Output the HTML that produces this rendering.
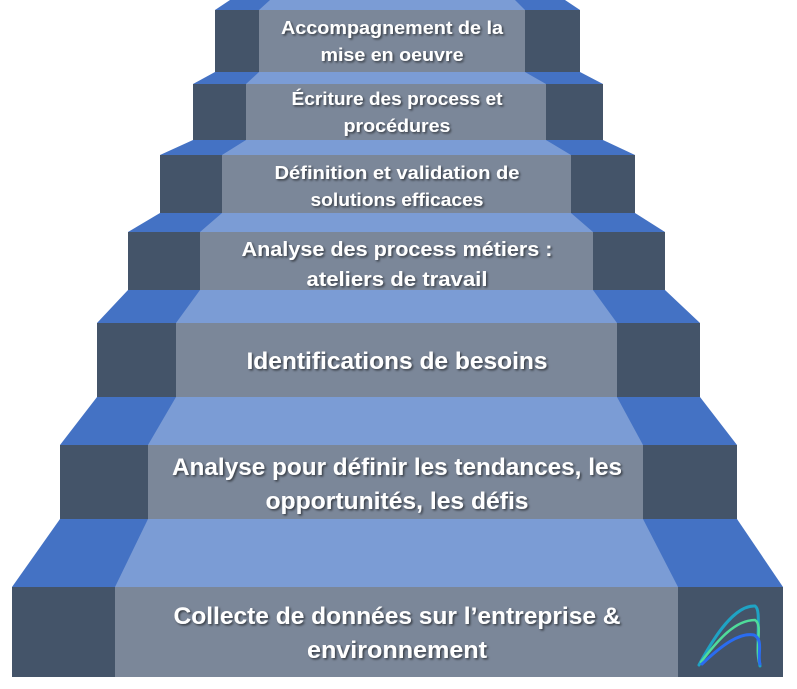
<!DOCTYPE html>
<html><head><meta charset="utf-8"><style>
html,body{margin:0;padding:0;background:#fff;}
svg{display:block;}
text{font-family:"Liberation Sans",sans-serif;font-weight:bold;fill:#fff;text-anchor:middle;}
</style></head><body>
<svg width="797" height="689" viewBox="0 0 797 689" xmlns="http://www.w3.org/2000/svg">
<defs><filter id="sh" x="-10%" y="-30%" width="120%" height="160%"><feDropShadow dx="1.5" dy="1.5" stdDeviation="1" flood-color="#000" flood-opacity="0.55"/></filter></defs>
<g id="steps">
<polygon points="230,0 565,0 580,10 215,10" fill="#4472c4"/>
<polygon points="270,0 515,0 525,10 259,10" fill="#7b9cd5"/>
<rect x="215" y="10" width="365" height="62" fill="#445469"/>
<rect x="259" y="10" width="266" height="62" fill="#7b8799"/>
<polygon points="215,72 580,72 603,84 193,84" fill="#4472c4"/>
<polygon points="259,72 525,72 546,84 246,84" fill="#7b9cd5"/>
<rect x="193" y="84" width="410" height="56" fill="#445469"/>
<rect x="246" y="84" width="300" height="56" fill="#7b8799"/>
<polygon points="193,140 603,140 635,155 160,155" fill="#4472c4"/>
<polygon points="246,140 546,140 571,155 222,155" fill="#7b9cd5"/>
<rect x="160" y="155" width="475" height="58" fill="#445469"/>
<rect x="222" y="155" width="349" height="58" fill="#7b8799"/>
<polygon points="160,213 635,213 665,232 128,232" fill="#4472c4"/>
<polygon points="222,213 571,213 593,232 200,232" fill="#7b9cd5"/>
<rect x="128" y="232" width="537" height="58" fill="#445469"/>
<rect x="200" y="232" width="393" height="58" fill="#7b8799"/>
<polygon points="128,290 665,290 700,323 97,323" fill="#4472c4"/>
<polygon points="200,290 593,290 617,323 176,323" fill="#7b9cd5"/>
<rect x="97" y="323" width="603" height="74" fill="#445469"/>
<rect x="176" y="323" width="441" height="74" fill="#7b8799"/>
<polygon points="97,397 700,397 737,445 60,445" fill="#4472c4"/>
<polygon points="176,397 617,397 643,445 148,445" fill="#7b9cd5"/>
<rect x="60" y="445" width="677" height="74" fill="#445469"/>
<rect x="148" y="445" width="495" height="74" fill="#7b8799"/>
<polygon points="60,519 737,519 783,587 12,587" fill="#4472c4"/>
<polygon points="148,519 643,519 678,587 115,587" fill="#7b9cd5"/>
<rect x="12" y="587" width="771" height="90" fill="#445469"/>
<rect x="115" y="587" width="563" height="90" fill="#7b8799"/>
</g>
<g filter="url(#sh)">
<text x="397" y="624" font-size="24" textLength="447" lengthAdjust="spacingAndGlyphs">Collecte de données sur l’entreprise &amp;</text>
<text x="397" y="658" font-size="24" textLength="180" lengthAdjust="spacingAndGlyphs">environnement</text>
<text x="397" y="475" font-size="24" textLength="450" lengthAdjust="spacingAndGlyphs">Analyse pour définir les tendances, les</text>
<text x="397" y="509" font-size="24" textLength="263" lengthAdjust="spacingAndGlyphs">opportunités, les défis</text>
<text x="397" y="369" font-size="24" textLength="301" lengthAdjust="spacingAndGlyphs">Identifications de besoins</text>
<text x="397" y="256" font-size="20" textLength="311" lengthAdjust="spacingAndGlyphs">Analyse des process métiers :</text>
<text x="397" y="286" font-size="20" textLength="181" lengthAdjust="spacingAndGlyphs">ateliers de travail</text>
<text x="397" y="179" font-size="18" textLength="245" lengthAdjust="spacingAndGlyphs">Définition et validation de</text>
<text x="397" y="206" font-size="18" textLength="173" lengthAdjust="spacingAndGlyphs">solutions efficaces</text>
<text x="397" y="105" font-size="18" textLength="211" lengthAdjust="spacingAndGlyphs">Écriture des process et</text>
<text x="397" y="132" font-size="18" textLength="107" lengthAdjust="spacingAndGlyphs">procédures</text>
<text x="392" y="34" font-size="18" textLength="222" lengthAdjust="spacingAndGlyphs">Accompagnement de la</text>
<text x="392" y="61" font-size="18" textLength="143" lengthAdjust="spacingAndGlyphs">mise en oeuvre</text>
</g>
<g fill="none" stroke-linecap="round">
<path d="M699,665 C715,635 735,605 755,606 C762,610 755,640 760,666" stroke="#1fa3c4" stroke-width="3"/>
<path d="M701,662 C718,640 735,620 755,620 C763,625 755,645 759,662" stroke="#4fdc9a" stroke-width="2.5"/>
<path d="M702,664 C722,645 740,632 754,635 C764,640 757,655 760,664" stroke="#2a6cf0" stroke-width="3"/>
</g>
</svg>
</body></html>
